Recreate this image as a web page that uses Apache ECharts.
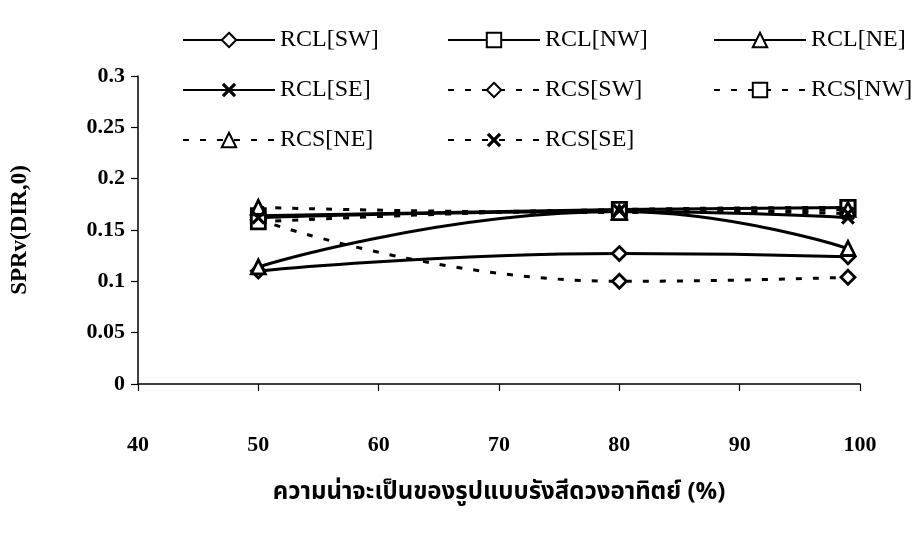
<!DOCTYPE html>
<html>
<head>
<meta charset="utf-8">
<script src="https://cdn.jsdelivr.net/npm/echarts@6/dist/echarts.min.js"></script>
<style>
  html, body { margin: 0; padding: 0; background: #fff; }
  #chart { width: 915px; height: 545px; }
</style>
</head>
<body>
<div id="chart"></div>
<script>
// Probability of the sun-path pattern (%)
var xValues = [50, 80, 99];

// SPRv(DIR,0) per orientation
var rclSW = [0.110, 0.127, 0.124];
var rclNW = [0.164, 0.170, 0.172];
var rclNE = [0.114, 0.168, 0.132];
var rclSE = [0.162, 0.168, 0.162];
var rcsSW = [0.160, 0.100, 0.104];
var rcsNW = [0.158, 0.170, 0.172];
var rcsNE = [0.172, 0.167, 0.170];
var rcsSE = [0.162, 0.169, 0.166];

var xTicks = [40, 50, 60, 70, 80, 90, 100];
var yTicks = [0, 0.05, 0.1, 0.15, 0.2, 0.25, 0.3];

var seriesNames = ['RCL[SW]', 'RCL[NW]', 'RCL[NE]', 'RCL[SE]',
                   'RCS[SW]', 'RCS[NW]', 'RCS[NE]', 'RCS[SE]'];
var seriesValues = [rclSW, rclNW, rclNE, rclSE, rcsSW, rcsNW, rcsNE, rcsSE];

var CROSS = 'path://M0,1.6 L1.6,0 L5,3.4 L8.4,0 L10,1.6 L6.6,5 L10,8.4 L8.4,10 L5,6.6 L1.6,10 L0,8.4 L3.4,5 Z';
var symbols = ['diamond', 'rect', 'triangle', CROSS, 'diamond', 'rect', 'triangle', CROSS];

var SERIF = '"Liberation Serif", "Times New Roman", serif';
var THAI = '"Noto Sans Thai", "Noto Serif Thai", "Loma", "Garuda", "Norasi", "Tlwg Typo", "DejaVu Sans", sans-serif';

function pairs(vals) {
  return xValues.map(function (x, i) { return [x, vals[i]]; });
}

var series = seriesNames.map(function (name, i) {
  var dotted = name.indexOf('RCS') === 0;
  var isCross = symbols[i] === CROSS;
  return {
    name: name,
    type: 'line',
    data: pairs(seriesValues[i]),
    smooth: true,
    symbol: symbols[i],
    symbolSize: isCross ? 14 : 14,
    showSymbol: true,
    z: dotted ? 3 : 2,
    lineStyle: {
      color: '#000',
      width: 3,
      type: dotted ? [6, 11] : 'solid'
    },
    itemStyle: isCross
      ? { color: '#000', borderColor: '#000', borderWidth: 0 }
      : { color: '#fff', borderColor: '#000', borderWidth: 2.8 },
    emphasis: { disabled: true }
  };
});

function legendColumn(left, names) {
  return {
    orient: 'vertical',
    left: left,
    top: 23,
    itemWidth: 92,
    itemHeight: 18,
    itemGap: 26,
    data: names,
    selectedMode: false,
    textStyle: { fontFamily: SERIF, fontSize: 24, lineHeight: 24, color: '#000' }
  };
}

var option = {
  backgroundColor: '#fff',
  animation: false,
  legend: [
    legendColumn(177, ['RCL[SW]', 'RCL[SE]', 'RCS[NE]']),
    legendColumn(442, ['RCL[NW]', 'RCS[SW]', 'RCS[SE]']),
    legendColumn(708, ['RCL[NE]', 'RCS[NW]'])
  ],
  grid: { left: 138, right: 55, top: 76, bottom: 161 },
  xAxis: {
    type: 'value',
    min: xTicks[0],
    max: xTicks[xTicks.length - 1],
    interval: 10,
    name: 'ความน่าจะเป็นของรูปแบบรังสีดวงอาทิตย์ (%)',
    nameLocation: 'middle',
    nameGap: 98,
    nameTextStyle: { fontFamily: THAI, fontSize: 24, fontWeight: 'bold', color: '#000' },
    axisLine: { show: true, lineStyle: { color: '#000', width: 1.5 } },
    axisTick: { show: true, length: 7, lineStyle: { color: '#000', width: 1.2 } },
    splitLine: { show: false },
    axisLabel: { margin: 50, fontFamily: SERIF, fontSize: 22, fontWeight: 'bold', color: '#000' }
  },
  yAxis: {
    type: 'value',
    min: yTicks[0],
    max: yTicks[yTicks.length - 1],
    interval: 0.05,
    name: 'SPRv(DIR,0)',
    nameLocation: 'middle',
    nameRotate: 90,
    nameGap: 106,
    nameTextStyle: { fontFamily: SERIF, fontSize: 23, fontWeight: 'bold', color: '#000' },
    axisLine: { show: true, lineStyle: { color: '#000', width: 1.5 } },
    axisTick: { show: true, length: 7, lineStyle: { color: '#000', width: 1.2 } },
    splitLine: { show: false },
    axisLabel: { margin: 13, fontFamily: SERIF, fontSize: 22, fontWeight: 'bold', color: '#000' }
  },
  series: series
};

var chart = echarts.init(document.getElementById('chart'), null, { renderer: 'canvas' });
chart.setOption(option);
</script>
</body>
</html>
